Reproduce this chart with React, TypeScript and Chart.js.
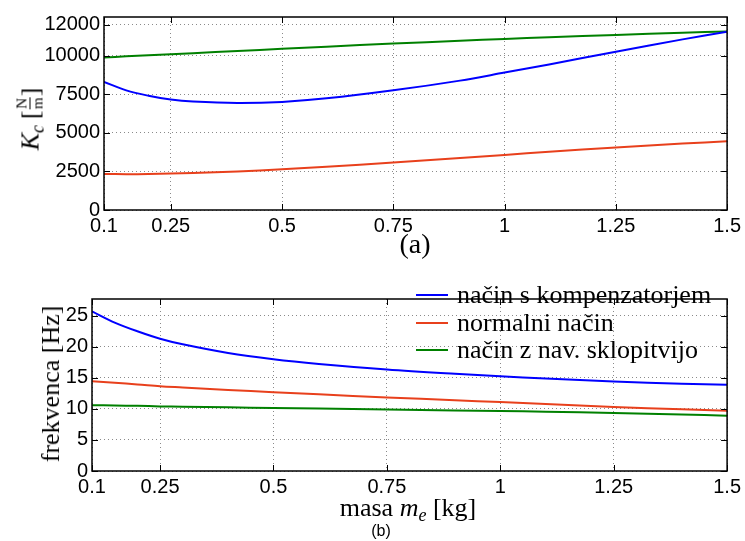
import React, { useEffect, useRef } from "react";
import { Chart, registerables } from "chart.js";

Chart.register(...registerables);

// ---- Data (a): stiffness K_c [N/m] vs mass m_e [kg]
const massKc = [0.1, 0.15, 0.2, 0.25, 0.3, 0.4, 0.5, 0.6, 0.75, 0.9, 1.0, 1.1, 1.25, 1.4, 1.5];
const kcComp = [8300, 7750, 7400, 7150, 7020, 6930, 7000, 7230, 7750, 8380, 8900, 9430, 10250, 11050, 11550];
const kcNormal = [2330, 2320, 2330, 2360, 2400, 2500, 2640, 2800, 3080, 3370, 3570, 3770, 4050, 4300, 4450];
const kcNav = [9880, 9950, 10020, 10090, 10160, 10300, 10440, 10580, 10780, 10960, 11080, 11190, 11340, 11480, 11560];

// ---- Data (b): frequency [Hz] vs mass m_e [kg]
const massF = [0.1, 0.15, 0.2, 0.25, 0.3, 0.4, 0.5, 0.6, 0.75, 0.9, 1.0, 1.1, 1.25, 1.4, 1.5];
const fComp = [25.7, 23.9, 22.5, 21.3, 20.4, 19.0, 18.0, 17.25, 16.35, 15.65, 15.25, 14.9, 14.4, 14.05, 13.9];
const fNormal = [14.45, 14.2, 13.95, 13.65, 13.45, 13.05, 12.7, 12.35, 11.85, 11.4, 11.1, 10.8, 10.3, 9.95, 9.7];
const fNav = [10.6, 10.55, 10.5, 10.4, 10.35, 10.25, 10.15, 10.05, 9.9, 9.75, 9.65, 9.55, 9.35, 9.1, 8.9];

// ---- Ticks
const xTicks = [0.1, 0.25, 0.5, 0.75, 1, 1.25, 1.5];
const yTicksKc = [0, 2500, 5000, 7500, 10000, 12000];
const yTicksF = [0, 5, 10, 15, 20, 25];

const seriesLabels = ["način s kompenzatorjem", "normalni način", "način z nav. sklopitvijo"];
const seriesColors = ["#0000ff", "#e8401c", "#008000"];

const toXY = (xs: number[], ys: number[]) => xs.map((x, i) => ({ x, y: ys[i] }));

const framePlugin = {
  id: "frame",
  afterDraw(chart: any) {
    const { ctx, chartArea: a, scales } = chart;
    const L = 6;
    ctx.save();
    ctx.strokeStyle = "#000";
    ctx.lineWidth = 1;
    ctx.beginPath();
    scales.x.ticks.forEach((t: any) => {
      const px = Math.round(scales.x.getPixelForValue(t.value)) + 0.5;
      ctx.moveTo(px, a.bottom);
      ctx.lineTo(px, a.bottom - L);
      ctx.moveTo(px, a.top);
      ctx.lineTo(px, a.top + L);
    });
    scales.y.ticks.forEach((t: any) => {
      const py = Math.round(scales.y.getPixelForValue(t.value)) + 0.5;
      ctx.moveTo(a.left, py);
      ctx.lineTo(a.left + L, py);
      ctx.moveTo(a.right, py);
      ctx.lineTo(a.right - L, py);
    });
    ctx.stroke();
    ctx.lineWidth = 1.5;
    ctx.strokeRect(a.left, a.top, a.right - a.left, a.bottom - a.top);
    ctx.restore();
  },
};

function makeOptions(
  yTicks: number[],
  yMax: number,
  yWidth: number,
  xHeight: number,
  padding: { top: number; right: number; bottom: number; left: number }
): any {
  const tickFont = { family: "'Liberation Sans', Arial, sans-serif", size: 20 };
  return {
    responsive: false,
    animation: false,
    devicePixelRatio: 1,
    layout: { padding },
    plugins: { legend: { display: false }, tooltip: { enabled: false }, title: { display: false } },
    elements: { point: { radius: 0 }, line: { borderWidth: 2, tension: 0.35 } },
    scales: {
      x: {
        type: "linear",
        min: 0.1,
        max: 1.5,
        afterBuildTicks: (s: any) => {
          s.ticks = xTicks.map((v) => ({ value: v }));
        },
        afterFit: (s: any) => {
          s.height = xHeight;
        },
        ticks: {
          autoSkip: false,
          maxRotation: 0,
          padding: 4,
          color: "#000",
          font: tickFont,
          callback: (v: any) => String(v),
        },
        grid: { color: "#8a8a8a", lineWidth: 1, drawTicks: false },
        border: { display: false, dash: [1, 3] },
      },
      y: {
        type: "linear",
        min: 0,
        max: yMax,
        afterBuildTicks: (s: any) => {
          s.ticks = yTicks.map((v) => ({ value: v }));
        },
        afterFit: (s: any) => {
          s.width = yWidth;
        },
        ticks: {
          autoSkip: false,
          padding: 4,
          color: "#000",
          font: tickFont,
          callback: (v: any) => String(v),
        },
        grid: { color: "#8a8a8a", lineWidth: 1, drawTicks: false },
        border: { display: false, dash: [1, 3] },
      },
    },
  };
}

export default function App() {
  const topRef = useRef<HTMLCanvasElement>(null);
  const botRef = useRef<HTMLCanvasElement>(null);

  useEffect(() => {
    document.body.style.margin = "0";
    const top = new Chart(topRef.current!, {
      type: "line",
      data: {
        datasets: [
          { label: seriesLabels[0], data: toXY(massKc, kcComp), borderColor: seriesColors[0] },
          { label: seriesLabels[1], data: toXY(massKc, kcNormal), borderColor: seriesColors[1] },
          { label: seriesLabels[2], data: toXY(massKc, kcNav), borderColor: seriesColors[2] },
        ],
      },
      options: makeOptions(yTicksKc, 12500, 104, 40, { top: 17, right: 16, bottom: 291, left: 0 }),
      plugins: [framePlugin],
    });
    const bot = new Chart(botRef.current!, {
      type: "line",
      data: {
        datasets: [
          { label: seriesLabels[0], data: toXY(massF, fComp), borderColor: seriesColors[0] },
          { label: seriesLabels[1], data: toXY(massF, fNormal), borderColor: seriesColors[1] },
          { label: seriesLabels[2], data: toXY(massF, fNav), borderColor: seriesColors[2] },
        ],
      },
      options: makeOptions(yTicksF, 27.7, 92, 70, { top: 299, right: 16, bottom: 0, left: 0 }),
      plugins: [framePlugin],
    });
    return () => {
      top.destroy();
      bot.destroy();
    };
  }, []);

  const serif = "'Liberation Serif', 'Times New Roman', serif";
  const center: React.CSSProperties = {
    position: "absolute",
    transform: "translate(-50%, -50%)",
    whiteSpace: "nowrap",
    fontFamily: serif,
    color: "#000",
    lineHeight: 1,
  };

  return (
    <div style={{ position: "relative", width: 745, height: 541, overflow: "hidden", background: "#fff" }}>
      <canvas ref={topRef} width={745} height={541} style={{ position: "absolute", left: 0, top: 0 }} />
      <canvas ref={botRef} width={745} height={541} style={{ position: "absolute", left: 0, top: 0 }} />

      {/* K_c label */}
      <div style={{ ...center, left: 30, top: 119, fontSize: 26, transform: "translate(-50%, -50%) rotate(-90deg)", display: "flex", alignItems: "center" }}>
        <span>
          <i>K</i>
          <i style={{ fontSize: 18, position: "relative", top: 5 }}>c</i>
        </span>
        <span style={{ marginLeft: 6 }}>[</span>
        <span style={{ display: "inline-flex", flexDirection: "column", alignItems: "center", fontSize: 15, lineHeight: 1, margin: "0 1px" }}>
          <span>N</span>
          <span style={{ borderTop: "1.5px solid #000", width: 12 }} />
          <span>m</span>
        </span>
        <span>]</span>
      </div>

      {/* (a) */}
      <div style={{ ...center, left: 415, top: 244, fontSize: 28 }}>(a)</div>

      {/* frekvenca label */}
      <div style={{ ...center, left: 51, top: 384, fontSize: 26, transform: "translate(-50%, -50%) rotate(-90deg)" }}>
        frekvenca [Hz]
      </div>

      {/* x label */}
      <div style={{ ...center, left: 408, top: 508, fontSize: 26 }}>
        masa <i>m</i>
        <i style={{ fontSize: 18, position: "relative", top: 5 }}>e</i> [kg]
      </div>

      {/* (b) */}
      <div style={{ ...center, left: 381, top: 531, fontSize: 16, fontFamily: "'Liberation Sans', Arial, sans-serif" }}>(b)</div>

      {/* Legend */}
      {seriesLabels.map((lab, i) => (
        <div key={lab} style={{ position: "absolute", left: 416, top: 295 + i * 27.5, transform: "translateY(-50%)", display: "flex", alignItems: "center", whiteSpace: "nowrap" }}>
          <span style={{ display: "inline-block", width: 32, borderTop: `2px solid ${seriesColors[i]}` }} />
          <span style={{ marginLeft: 9, fontFamily: serif, fontSize: 26, lineHeight: 1 }}>{lab}</span>
        </div>
      ))}
    </div>
  );
}
